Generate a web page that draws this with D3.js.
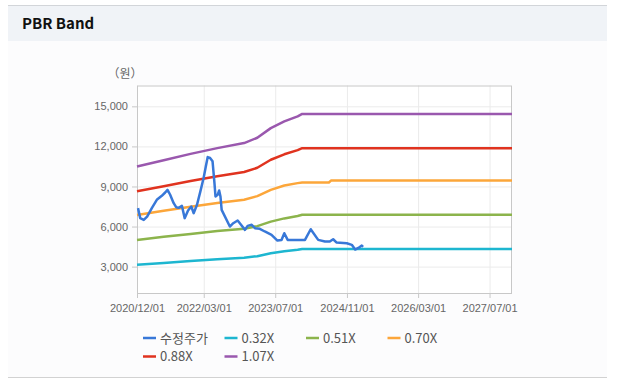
<!DOCTYPE html>
<html>
<head>
<meta charset="utf-8">
<script src="https://cdn.jsdelivr.net/npm/d3@7"></script>
<style>
  html, body { margin: 0; padding: 0; background: #fff; }
  svg { display: block; font-family: "Noto Sans CJK KR", "Noto Sans", sans-serif; }
  .tick text { fill: #666; font-size: 11px; }
  .gridlines line { stroke: #ebebeb; }
  .gridlines .domain { display: none; }
  .legend text { fill: #555; font-size: 13px; }
</style>
</head>
<body>
<svg id="chart" width="617" height="388"></svg>
<script>
/* ---------- data ---------- */
const priceDates = [
  '2020-12-08', '2020-12-23', '2021-01-16', '2021-02-08', '2021-03-12', '2021-04-15',
  '2021-05-19', '2021-06-11', '2021-06-27', '2021-07-15', '2021-08-08', '2021-08-25',
  '2021-09-11', '2021-10-03', '2021-10-22', '2021-11-14', '2021-12-06', '2021-12-22',
  '2022-01-14', '2022-02-06', '2022-02-28', '2022-03-15', '2022-03-28', '2022-04-13',
  '2022-04-30', '2022-05-13', '2022-05-20', '2022-06-05', '2022-06-14', '2022-06-23',
  '2022-07-01', '2022-08-26', '2022-09-18', '2022-10-18', '2022-11-10', '2022-12-07',
  '2022-12-25', '2023-01-22', '2023-02-13', '2023-03-18', '2023-04-21', '2023-06-06',
  '2023-07-16', '2023-08-13', '2023-09-01', '2023-09-24', '2023-11-13', '2024-01-20',
  '2024-02-28', '2024-04-19', '2024-06-04', '2024-07-07', '2024-07-30', '2024-08-23',
  '2024-10-31', '2024-12-04', '2024-12-27', '2025-01-18', '2025-02-10', '2025-02-19'
];
const priceValues = [
  7380, 6630, 6500, 6750, 7380, 8000,
  8300, 8550, 8750, 8380, 7750, 7450,
  7400, 7550, 6630, 7200, 7500, 7000,
  7630, 8630, 9630, 10500, 11200, 11130,
  10880, 9250, 8250, 8400, 8700, 8250,
  7250, 6000, 6250, 6450, 6130, 5750,
  6050, 6130, 5880, 5830, 5630, 5380,
  4950, 5000, 5500, 5000, 5000, 5000,
  5800, 5000, 4880, 4880, 5050, 4800,
  4750, 4630, 4280, 4400, 4580, 4480
];

const bandDates = [
  '2020-12-01', '2021-06-01', '2021-12-01', '2022-06-01', '2022-12-01', '2023-03-01',
  '2023-06-01', '2023-09-01', '2023-12-01', '2024-01-01', '2024-07-01', '2024-07-15',
  '2027-12-01'
];
const band032 = [3140, 3280, 3420, 3550, 3660, 3780, 4000, 4150, 4260, 4320, 4320, 4320, 4320];
const band051 = [5000, 5230, 5450, 5660, 5840, 6030, 6370, 6610, 6790, 6880, 6880, 6880, 6880];
const band070 = [6870, 7180, 7480, 7770, 8010, 8280, 8750, 9070, 9250, 9300, 9300, 9440, 9440];
const band088 = [8640, 9020, 9410, 9760, 10080, 10400, 11000, 11410, 11720, 11870, 11870, 11870, 11870];
const band107 = [10500, 10970, 11440, 11870, 12250, 12650, 13370, 13870, 14250, 14430, 14430, 14430, 14430];

const seriesNames = ['수정주가', '0.32X', '0.51X', '0.70X', '0.88X', '1.07X'];
const seriesColors = ['#3878d8', '#1db6d0', '#8cb44c', '#fca63a', '#e0331f', '#9a58ae'];

const yTicks = [3000, 6000, 9000, 12000, 15000];
const xTickLabels = ['2020/12/01', '2022/03/01', '2023/07/01', '2024/11/01', '2026/03/01', '2027/07/01'];

/* ---------- layout ---------- */
const svg = d3.select('#chart');
const plot = { left: 137, right: 512, top: 85.5, bottom: 294 };

// panel + header
svg.append('rect').attr('x', 8).attr('y', 5).attr('width', 599).attr('height', 372).attr('fill', '#fcfcfd');
svg.append('rect').attr('x', 8).attr('y', 5).attr('width', 599).attr('height', 36).attr('fill', '#f0f3f7');
svg.append('line').attr('x1', 8).attr('x2', 607).attr('y1', 5.5).attr('y2', 5.5).attr('stroke', '#d2d5d9');
svg.append('line').attr('x1', 8).attr('x2', 607).attr('y1', 377.5).attr('y2', 377.5).attr('stroke', '#d2d2d2');
svg.append('text')
  .attr('x', 22).attr('y', 29)
  .attr('font-size', 15).attr('font-weight', 'bold').attr('fill', '#111')
  .text('PBR Band');

const parse = d3.timeParse('%Y-%m-%d');
const parseTick = d3.timeParse('%Y/%m/%d');

const xScale = d3.scaleTime()
  .domain([parse('2020-12-01'), parse('2027-12-01')])
  .range([plot.left, plot.right]);
const yScale = d3.scaleLinear()
  .domain([950, 16560])
  .range([plot.bottom, plot.top]);

const xTicks = xTickLabels.map(parseTick);

// plot background
svg.append('rect')
  .attr('x', plot.left).attr('y', plot.top)
  .attr('width', plot.right - plot.left).attr('height', plot.bottom - plot.top)
  .attr('fill', '#fff');

// gridlines
svg.append('g')
  .attr('class', 'gridlines')
  .attr('transform', `translate(${plot.left},0)`)
  .call(d3.axisLeft(yScale).tickValues(yTicks).tickSize(-(plot.right - plot.left)).tickFormat(''));
svg.append('g')
  .attr('class', 'gridlines')
  .attr('transform', `translate(0,${plot.bottom})`)
  .call(d3.axisBottom(xScale).tickValues(xTicks).tickSize(-(plot.bottom - plot.top)).tickFormat(''));

// frame
svg.append('rect')
  .attr('x', plot.left + 0.5).attr('y', plot.top + 0.5)
  .attr('width', plot.right - plot.left - 1).attr('height', plot.bottom - plot.top - 1)
  .attr('fill', 'none').attr('stroke', '#c8c8c8');

// axes
const xAxis = svg.append('g')
  .attr('transform', `translate(0,${plot.bottom})`)
  .call(d3.axisBottom(xScale).tickValues(xTicks).tickSize(4).tickPadding(6).tickFormat(d3.timeFormat('%Y/%m/%d')));
const yAxis = svg.append('g')
  .attr('transform', `translate(${plot.left},0)`)
  .call(d3.axisLeft(yScale).tickValues(yTicks).tickSize(5).tickPadding(4).tickFormat(d3.format(',')));
[xAxis, yAxis].forEach(a => {
  a.select('.domain').remove();
  a.selectAll('.tick line').attr('stroke', '#c8c8c8');
});

svg.append('text')
  .attr('x', 125).attr('y', 78)
  .attr('text-anchor', 'middle')
  .attr('font-size', 12).attr('fill', '#666')
  .text('（원）');

// lines
const line = d3.line()
  .x(d => xScale(d[0]))
  .y(d => yScale(d[1]));

const bands = [band032, band051, band070, band088, band107];
const seriesData = [
  priceDates.map((d, i) => [parse(d), priceValues[i]]),
  ...bands.map(vals => bandDates.map((d, i) => [parse(d), vals[i]]))
];

const drawOrder = [1, 2, 3, 4, 5, 0];
svg.append('g')
  .selectAll('path')
  .data(drawOrder)
  .join('path')
  .attr('d', i => line(seriesData[i]))
  .attr('fill', 'none')
  .attr('stroke', i => seriesColors[i])
  .attr('stroke-width', 2.5)
  .attr('stroke-linejoin', 'round');

// legend
const legend = svg.append('g').attr('class', 'legend');
const item = legend.selectAll('g')
  .data(seriesNames)
  .join('g')
  .attr('transform', (d, i) => `translate(${143 + (i % 4) * 81.5},${338 + Math.floor(i / 4) * 18.5})`);
item.append('line')
  .attr('x1', 0).attr('x2', 13)
  .attr('stroke', (d, i) => seriesColors[i])
  .attr('stroke-width', 2.5);
item.append('text')
  .attr('x', 17).attr('dy', '0.36em')
  .text(d => d);
</script>
</body>
</html>
